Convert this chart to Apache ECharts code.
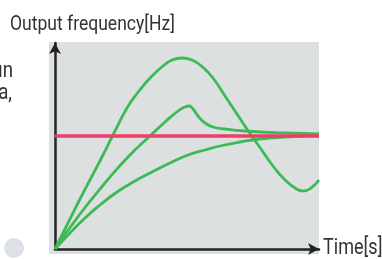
<!DOCTYPE html>
<html>
<head>
<meta charset="utf-8">
<script src="https://cdn.jsdelivr.net/npm/echarts@6/dist/echarts.min.js"></script>
<style>
  html, body { margin: 0; padding: 0; background: #fff; }
  #chart { width: 382px; height: 259px; }
</style>
</head>
<body>
<div id="chart"></div>
<script>
// time vs output frequency, arbitrary units
const overshootCurve = [
    [0, 0], [12, 24], [24, 48], [36, 71], [48, 94], [60, 118], [72, 141],
    [84, 158], [96, 172], [108, 183], [117, 189], [127, 191], [137, 189],
    [147, 182.5], [158, 171], [170, 153], [182, 135], [194, 117], [206, 100],
    [218, 83], [230, 69], [240, 61], [248, 58], [256, 61], [264, 69]
]
const peakCurve = [
    [0, 0], [25, 35], [50, 66], [73, 92], [95, 113], [110, 127], [123, 138],
    [130, 142], [134, 143], [138, 140], [143, 133], [150, 126], [158, 122],
    [170, 120], [190, 118], [230, 116], [264, 115]
]
const slowCurve = [
    [0, 0], [15, 16], [30, 31], [45, 44], [62, 57], [80, 68], [95, 76],
    [115, 86], [133, 94], [150, 99], [165, 103], [185, 107], [205, 110],
    [230, 112], [264, 114]
]
const targetLine = [[0, 113], [264, 113]]

const timeMax = 264
const freqMax = 206

const yTitle = 'Output frequency[Hz]'
const xTitle = 'Time[s]'

const font = 'Roboto, sans-serif'
const green = '#3dba55'
const textColor = '#333'

const chart = echarts.init(document.getElementById('chart'))

const greenSeries = [overshootCurve, peakCurve, slowCurve].map(d => ({
    type: 'line',
    data: d,
    smooth: 0.5,
    symbol: 'none',
    lineStyle: { color: green, width: 2.8 },
    z: 2
}))

chart.setOption({
    animation: false,
    grid: { left: 55, right: 63, top: 43, bottom: 10, outerBoundsMode: 'none' },
    xAxis: {
        type: 'value',
        min: 0,
        max: timeMax,
        axisLine: { lineStyle: { color: '#222', width: 2.5 }, symbol: ['none', 'arrow'], symbolSize: [9, 11] },
        axisTick: { show: false },
        axisLabel: { show: false },
        splitLine: { show: false }
    },
    yAxis: {
        type: 'value',
        min: 0,
        max: freqMax,
        axisLine: { lineStyle: { color: '#222', width: 2.5 }, symbol: ['none', 'arrow'], symbolSize: [9, 11] },
        axisTick: { show: false },
        axisLabel: { show: false },
        splitLine: { show: false }
    },
    graphic: [
        { type: 'rect', z: -10, shape: { x: 49, y: 42, width: 270, height: 212 }, style: { fill: '#dde0e1' } },
        { type: 'circle', shape: { cx: 14, cy: 248, r: 10 }, style: { fill: '#dde1e5' } },
        {
            type: 'text', x: 10, y: 25, scaleX: 0.835,
            style: { text: yTitle, font: '21px ' + font, fill: textColor, verticalAlign: 'middle' }
        },
        {
            type: 'text', x: 323, y: 248, scaleX: 0.82,
            style: { text: xTitle, font: '22px ' + font, fill: textColor, verticalAlign: 'middle' }
        },
        {
            type: 'text', x: 13, y: 71, scaleX: 0.85,
            style: { text: 'un', font: '22px ' + font, fill: textColor, align: 'right', verticalAlign: 'middle' }
        },
        {
            type: 'text', x: 12, y: 93, scaleX: 0.85,
            style: { text: 'a,', font: '22px ' + font, fill: textColor, align: 'right', verticalAlign: 'middle' }
        }
    ],
    series: greenSeries.concat([{
        type: 'line',
        data: targetLine,
        symbol: 'none',
        lineStyle: { color: '#ee3e68', width: 3.4 },
        z: 3
    }])
})
</script>
</body>
</html>
